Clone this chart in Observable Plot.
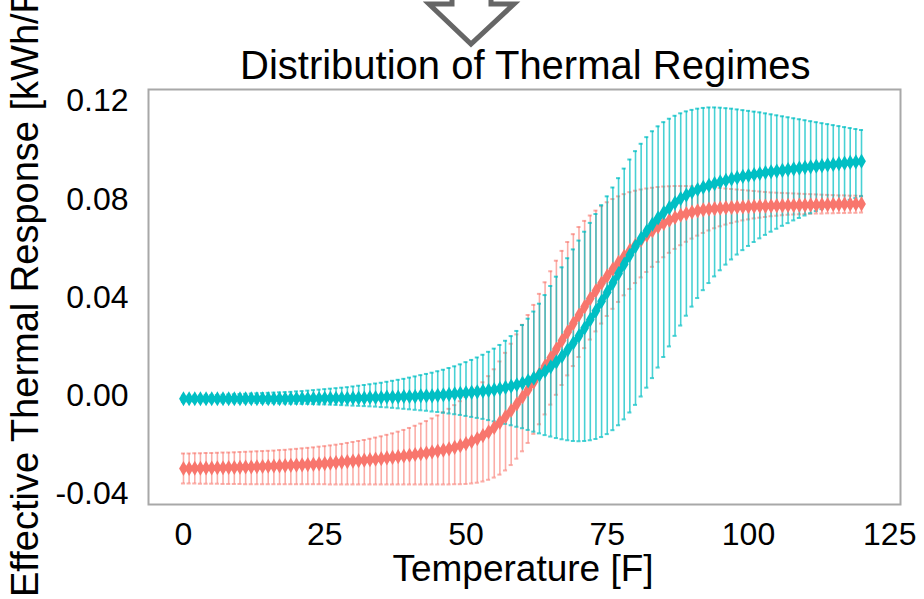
<!DOCTYPE html>
<html><head><meta charset="utf-8">
<script src="https://cdn.jsdelivr.net/npm/d3@7"></script>
<script src="https://cdn.jsdelivr.net/npm/@observablehq/plot@0.6"></script>
<style>
html,body{margin:0;padding:0;background:#fff;}
#wrap{position:relative;width:924px;height:599px;overflow:hidden;font-family:"Liberation Sans",Arial,Helvetica,sans-serif;}
#wrap svg{position:absolute;left:0;top:0;}
</style></head><body><div id="wrap"></div>
<script>
const temps = d3.range(0, 121);

const tealMean = [
-0.0012,-0.0012,-0.0012,-0.0012,-0.0012,-0.0012,-0.0012,-0.0012,-0.0012,-0.0012,
-0.0012,-0.0012,-0.0012,-0.0012,-0.0012,-0.0012,-0.0012,-0.0012,-0.0012,-0.0012,
-0.0011,-0.0011,-0.0011,-0.0011,-0.0011,-0.0010,-0.0010,-0.0010,-0.0010,-0.0010,
-0.0009,-0.0009,-0.0009,-0.0007,-0.0007,-0.0007,-0.0005,-0.0005,-0.0005,-0.0003,
-0.0003,-0.0003,0.0000,0.0000,0.0000,0.0002,0.0004,0.0006,0.0008,0.0010,
0.0012,0.0014,0.0016,0.0019,0.0022,0.0025,0.0029,0.0034,0.0039,0.0045,
0.0052,0.0061,0.0072,0.0085,0.0100,0.0118,0.0138,0.0161,0.0187,0.0215,
0.0244,0.0276,0.0310,0.0346,0.0385,0.0422,0.0460,0.0498,0.0536,0.0573,
0.0608,0.0641,0.0671,0.0699,0.0724,0.0746,0.0766,0.0786,0.0803,0.0817,
0.0830,0.0840,0.0849,0.0857,0.0864,0.0871,0.0877,0.0883,0.0888,0.0893,
0.0897,0.0901,0.0905,0.0909,0.0912,0.0915,0.0918,0.0921,0.0924,0.0927,
0.0930,0.0932,0.0935,0.0937,0.0940,0.0942,0.0945,0.0947,0.0950,0.0952,
0.0955];

const tealUpper = [
0.0000,0.0000,0.0001,0.0001,0.0002,0.0003,0.0003,0.0004,0.0005,0.0006,
0.0007,0.0008,0.0009,0.0010,0.0011,0.0012,0.0013,0.0014,0.0015,0.0016,
0.0018,0.0019,0.0021,0.0023,0.0025,0.0027,0.0029,0.0031,0.0033,0.0035,
0.0038,0.0041,0.0044,0.0047,0.0050,0.0053,0.0057,0.0061,0.0065,0.0069,
0.0074,0.0079,0.0084,0.0089,0.0094,0.0100,0.0106,0.0113,0.0120,0.0128,
0.0137,0.0146,0.0156,0.0167,0.0179,0.0192,0.0207,0.0224,0.0243,0.0264,
0.0288,0.0314,0.0343,0.0375,0.0410,0.0447,0.0485,0.0523,0.0560,0.0596,
0.0632,0.0668,0.0704,0.0740,0.0776,0.0812,0.0848,0.0886,0.0925,0.0962,
0.0996,0.1026,0.1053,0.1077,0.1097,0.1114,0.1128,0.1140,0.1150,0.1158,
0.1164,0.1169,0.1172,0.1174,0.1174,0.1173,0.1171,0.1169,0.1166,0.1163,
0.1160,0.1157,0.1154,0.1150,0.1146,0.1142,0.1138,0.1134,0.1130,0.1126,
0.1122,0.1118,0.1114,0.1110,0.1106,0.1102,0.1098,0.1094,0.1090,0.1086,
0.1082];

const tealLower = [
-0.0025,-0.0025,-0.0025,-0.0026,-0.0026,-0.0026,-0.0026,-0.0027,-0.0027,-0.0027,
-0.0028,-0.0028,-0.0028,-0.0029,-0.0029,-0.0030,-0.0030,-0.0031,-0.0031,-0.0032,
-0.0032,-0.0033,-0.0033,-0.0034,-0.0035,-0.0035,-0.0036,-0.0037,-0.0038,-0.0039,
-0.0040,-0.0041,-0.0042,-0.0043,-0.0044,-0.0046,-0.0047,-0.0049,-0.0051,-0.0053,
-0.0055,-0.0057,-0.0059,-0.0061,-0.0064,-0.0066,-0.0069,-0.0072,-0.0075,-0.0078,
-0.0082,-0.0086,-0.0090,-0.0094,-0.0099,-0.0104,-0.0109,-0.0114,-0.0120,-0.0126,
-0.0132,-0.0139,-0.0146,-0.0153,-0.0160,-0.0166,-0.0172,-0.0177,-0.0181,-0.0184,
-0.0185,-0.0184,-0.0181,-0.0176,-0.0168,-0.0156,-0.0140,-0.0120,-0.0096,-0.0068,
-0.0037,-0.0003,0.0033,0.0072,0.0115,0.0158,0.0201,0.0244,0.0286,0.0326,
0.0363,0.0398,0.0430,0.0459,0.0486,0.0511,0.0534,0.0555,0.0575,0.0593,
0.0610,0.0626,0.0641,0.0655,0.0668,0.0680,0.0692,0.0703,0.0714,0.0724,
0.0734,0.0743,0.0752,0.0760,0.0768,0.0776,0.0784,0.0791,0.0798,0.0805,
0.0812];

const salmonMean = [
-0.0296,-0.0296,-0.0295,-0.0295,-0.0294,-0.0294,-0.0293,-0.0293,-0.0292,-0.0292,
-0.0291,-0.0290,-0.0290,-0.0289,-0.0288,-0.0287,-0.0286,-0.0285,-0.0284,-0.0283,
-0.0282,-0.0281,-0.0280,-0.0279,-0.0277,-0.0276,-0.0274,-0.0272,-0.0270,-0.0268,
-0.0266,-0.0264,-0.0262,-0.0260,-0.0258,-0.0256,-0.0253,-0.0251,-0.0248,-0.0245,
-0.0242,-0.0239,-0.0236,-0.0233,-0.0229,-0.0225,-0.0221,-0.0216,-0.0210,-0.0203,
-0.0195,-0.0186,-0.0175,-0.0162,-0.0147,-0.0129,-0.0108,-0.0085,-0.0060,-0.0033,
-0.0005,0.0025,0.0056,0.0088,0.0121,0.0155,0.0190,0.0225,0.0260,0.0295,
0.0329,0.0363,0.0396,0.0428,0.0459,0.0488,0.0516,0.0543,0.0568,0.0592,
0.0614,0.0635,0.0654,0.0672,0.0688,0.0702,0.0715,0.0726,0.0735,0.0742,
0.0748,0.0753,0.0757,0.0760,0.0762,0.0764,0.0766,0.0767,0.0768,0.0769,
0.0770,0.0771,0.0772,0.0772,0.0773,0.0774,0.0774,0.0775,0.0775,0.0776,
0.0776,0.0777,0.0777,0.0778,0.0778,0.0779,0.0779,0.0780,0.0780,0.0781,
0.0781];

const salmonUpper = [
-0.0235,-0.0235,-0.0234,-0.0234,-0.0233,-0.0233,-0.0232,-0.0231,-0.0231,-0.0230,
-0.0229,-0.0228,-0.0227,-0.0226,-0.0225,-0.0224,-0.0223,-0.0221,-0.0220,-0.0218,
-0.0216,-0.0214,-0.0212,-0.0210,-0.0207,-0.0205,-0.0202,-0.0199,-0.0196,-0.0192,
-0.0188,-0.0184,-0.0180,-0.0175,-0.0170,-0.0165,-0.0159,-0.0153,-0.0146,-0.0139,
-0.0131,-0.0122,-0.0113,-0.0103,-0.0092,-0.0080,-0.0067,-0.0053,-0.0038,-0.0022,
-0.0005,0.0013,0.0033,0.0055,0.0080,0.0108,0.0140,0.0175,0.0212,0.0250,
0.0289,0.0329,0.0370,0.0415,0.0462,0.0507,0.0550,0.0590,0.0626,0.0658,
0.0687,0.0712,0.0734,0.0754,0.0772,0.0788,0.0801,0.0812,0.0821,0.0829,
0.0835,0.0840,0.0844,0.0847,0.0850,0.0852,0.0853,0.0854,0.0854,0.0854,
0.0853,0.0852,0.0851,0.0850,0.0848,0.0846,0.0844,0.0842,0.0840,0.0838,
0.0836,0.0834,0.0832,0.0830,0.0828,0.0827,0.0826,0.0825,0.0824,0.0823,
0.0822,0.0821,0.0820,0.0819,0.0818,0.0817,0.0816,0.0816,0.0815,0.0815,
0.0814];

const salmonLower = [
-0.0357,-0.0357,-0.0357,-0.0358,-0.0358,-0.0358,-0.0358,-0.0359,-0.0359,-0.0359,
-0.0359,-0.0360,-0.0360,-0.0360,-0.0360,-0.0360,-0.0360,-0.0360,-0.0360,-0.0360,
-0.0360,-0.0360,-0.0360,-0.0360,-0.0360,-0.0360,-0.0361,-0.0361,-0.0361,-0.0361,
-0.0361,-0.0361,-0.0361,-0.0361,-0.0361,-0.0361,-0.0361,-0.0361,-0.0361,-0.0361,
-0.0361,-0.0361,-0.0361,-0.0361,-0.0361,-0.0361,-0.0361,-0.0361,-0.0360,-0.0360,
-0.0359,-0.0357,-0.0354,-0.0349,-0.0342,-0.0333,-0.0321,-0.0304,-0.0282,-0.0256,
-0.0226,-0.0192,-0.0155,-0.0116,-0.0076,-0.0036,0.0004,0.0044,0.0083,0.0121,
0.0158,0.0194,0.0229,0.0262,0.0294,0.0325,0.0354,0.0382,0.0409,0.0435,
0.0459,0.0482,0.0504,0.0525,0.0545,0.0564,0.0582,0.0598,0.0613,0.0627,
0.0640,0.0652,0.0663,0.0673,0.0682,0.0690,0.0697,0.0703,0.0709,0.0714,
0.0718,0.0722,0.0725,0.0728,0.0731,0.0733,0.0735,0.0737,0.0738,0.0739,
0.0740,0.0741,0.0742,0.0742,0.0743,0.0743,0.0744,0.0744,0.0745,0.0745,
0.0746];

const xTicks = [0, 25, 50, 75, 100, 125];
const yTicks = [-0.04, 0, 0.04, 0.08, 0.12];
const titleText = "Distribution of Thermal Regimes";
const xLabelText = "Temperature [F]";
const yLabelText = "Effective Thermal Response [kWh/F]";
const salmonColor = "#F8766D";
const tealColor = "#00BFC4";

const salmon = temps.map((t, i) => ({t, mean: salmonMean[i], lo: salmonLower[i], hi: salmonUpper[i]}));
const teal = temps.map((t, i) => ({t, mean: tealMean[i], lo: tealLower[i], hi: tealUpper[i]}));

const cap = 0.36;
function bars(data, color, op) {
  return [
    Plot.ruleX(data, {x: "t", y1: "lo", y2: "hi", stroke: color, strokeOpacity: op, strokeWidth: 1.6}),
    Plot.ruleY(data, {y: "hi", x1: d => d.t - cap, x2: d => d.t + cap, stroke: color, strokeOpacity: op, strokeWidth: 2}),
    Plot.ruleY(data, {y: "lo", x1: d => d.t - cap, x2: d => d.t + cap, stroke: color, strokeOpacity: op, strokeWidth: 2})
  ];
}
function means(data, color) {
  return [
    Plot.line(data, {x: "t", y: "mean", stroke: color, strokeWidth: 5.5}),
    Plot.dot(data, {x: "t", y: "mean", fill: color, symbol: "diamond", r: 4.6})
  ];
}

const chart = Plot.plot({
  width: 924, height: 599,
  marginLeft: 148, marginRight: 24, marginTop: 89, marginBottom: 95,
  style: {fontFamily: '"Liberation Sans", Arial, Helvetica, sans-serif', fontSize: "32px", color: "#000", background: "transparent", overflow: "visible"},
  x: {domain: [-6.19, 126.9], ticks: xTicks, tickSize: 0, tickPadding: 18, label: null, tickFormat: d => String(d)},
  y: {domain: [-0.04426, 0.1247], ticks: yTicks, tickSize: 0, tickPadding: 20, label: null, tickFormat: d => d.toFixed(2)},
  marks: [
    ...bars(salmon, salmonColor, 0.6),
    ...bars(teal, tealColor, 0.72),
    ...means(salmon, salmonColor),
    ...means(teal, tealColor),
    Plot.frame({stroke: "#a8a8a8", strokeWidth: 2})
  ]
});
const wrap = document.getElementById("wrap");
wrap.appendChild(chart);

const ov = d3.select(wrap).append("svg").attr("width", 924).attr("height", 599)
  .style("font-family", '"Liberation Sans", Arial, Helvetica, sans-serif');
ov.append("path")
  .attr("d", "M452,-8 L452,4 L429,4 L471,44 L514,4 L491,4 L491,-8")
  .attr("fill", "none").attr("stroke", "#666").attr("stroke-width", 5).attr("stroke-linejoin", "miter");
ov.append("text").attr("x", 240).attr("y", 79).attr("text-anchor", "start")
  .attr("font-size", 40).attr("fill", "#000").text(titleText);
ov.append("text").attr("x", 523).attr("y", 581).attr("text-anchor", "middle")
  .attr("font-size", 37).attr("fill", "#000").text(xLabelText);
ov.append("text").attr("transform", "translate(38,597) rotate(-90)")
  .attr("font-size", 38).attr("fill", "#000").text(yLabelText);
</script>
</body></html>
